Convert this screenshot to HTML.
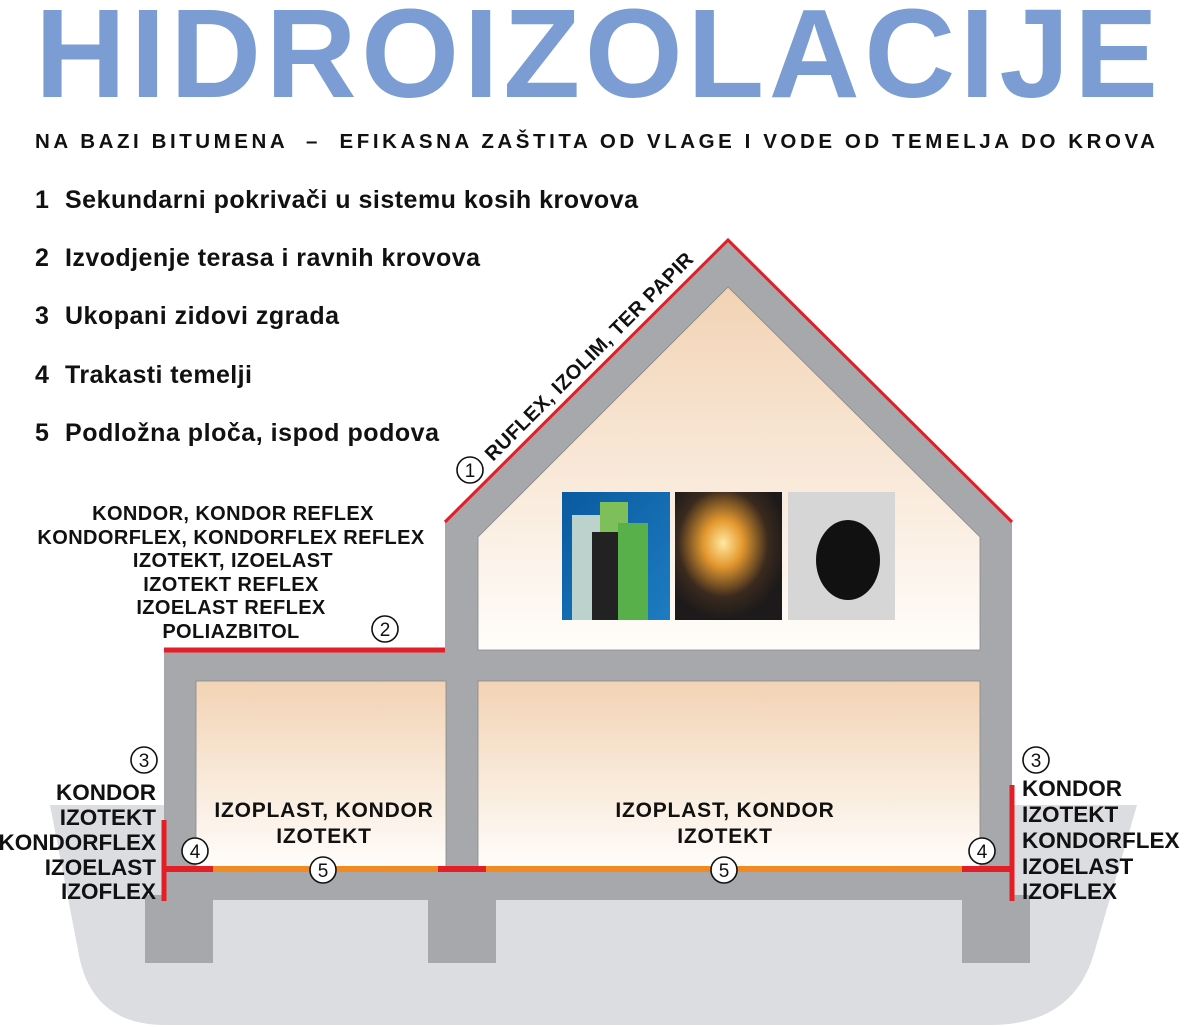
<!DOCTYPE html>
<html><head><meta charset="utf-8"><style>
html,body{margin:0;padding:0;background:#fff;}
svg{display:block;}
text{font-family:"Liberation Sans",Arial,sans-serif;font-weight:bold;}
</style></head><body>
<svg width="1185" height="1027" viewBox="0 0 1185 1027" xmlns="http://www.w3.org/2000/svg">
<defs>
<linearGradient id="room" x1="0" y1="0" x2="0" y2="1">
<stop offset="0" stop-color="#f2d3b4"/><stop offset="1" stop-color="#fffdfb"/>
</linearGradient>
<linearGradient id="p1" x1="0" y1="0" x2="1" y2="1"><stop offset="0" stop-color="#0a5aa0"/><stop offset="1" stop-color="#1e7cc0"/></linearGradient>
<radialGradient id="p2" cx="0.45" cy="0.4" r="0.6"><stop offset="0" stop-color="#ffe9a0"/><stop offset="0.3" stop-color="#e59a30"/><stop offset="0.7" stop-color="#3a2a1e"/><stop offset="1" stop-color="#1c1a1a"/></radialGradient>
</defs>
<text x="35" y="97" textLength="1123" lengthAdjust="spacing" font-size="126" fill="#7b9dd3">HIDROIZOLACIJE</text>
<text x="35" y="148" textLength="1120" lengthAdjust="spacing" font-size="20.5" fill="#111" xml:space="preserve">NA BAZI BITUMENA  –  EFIKASNA ZAŠTITA OD VLAGE I VODE OD TEMELJA DO KROVA</text>
<g font-size="25" fill="#111">
<text x="35" y="208">1</text><text x="65" y="208" textLength="573" lengthAdjust="spacing">Sekundarni pokrivači u sistemu kosih krovova</text>
<text x="35" y="266">2</text><text x="65" y="266" textLength="415" lengthAdjust="spacing">Izvodjenje terasa i ravnih krovova</text>
<text x="35" y="324">3</text><text x="65" y="324" textLength="274" lengthAdjust="spacing">Ukopani zidovi zgrada</text>
<text x="35" y="383">4</text><text x="65" y="383" textLength="187" lengthAdjust="spacing">Trakasti temelji</text>
<text x="35" y="441">5</text><text x="65" y="441" textLength="374" lengthAdjust="spacing">Podložna ploča, ispod podova</text>
</g>
<path d="M50 805 L1137 805 L1095 950 Q1075 1025 990 1025 L165 1025 Q90 1025 78 950 Z" fill="#dcdde0"/>
<path d="M445 522 L728 240 L1012 522 L1012 900 L164 900 L164 650 L445 650 Z" fill="#a7a8ab"/>
<rect x="145" y="895" width="68" height="68" fill="#a7a8ab"/>
<rect x="428" y="895" width="68" height="68" fill="#a7a8ab"/>
<rect x="962" y="895" width="68" height="68" fill="#a7a8ab"/>
<path d="M478 537 L728 287 L980 537 L980 650 L478 650 Z" fill="url(#room)" stroke="#888" stroke-width="0.8"/>
<rect x="196" y="681" width="250" height="188" fill="url(#room)" stroke="#888" stroke-width="0.8"/>
<rect x="478" y="681" width="502" height="188" fill="url(#room)" stroke="#888" stroke-width="0.8"/>
<rect x="562" y="492" width="108" height="128" fill="url(#p1)"/>
<rect x="572" y="515" width="30" height="105" fill="#bcd2cc"/>
<rect x="600" y="502" width="28" height="118" fill="#7fbf5a"/>
<rect x="592" y="532" width="28" height="88" fill="#222"/>
<rect x="618" y="523" width="30" height="97" fill="#58b04a"/>
<rect x="675" y="492" width="107" height="128" fill="url(#p2)"/>
<rect x="788" y="492" width="107" height="128" fill="#d6d6d6"/>
<ellipse cx="848" cy="560" rx="32" ry="40" fill="#111"/>
<path d="M445 522 L728 240 L1012 522" fill="none" stroke="#e31e26" stroke-width="3"/>
<line x1="164" y1="650" x2="445" y2="650" stroke="#e31e26" stroke-width="5"/>
<line x1="213" y1="869" x2="962" y2="869" stroke="#f28a22" stroke-width="6"/>
<line x1="164" y1="869" x2="213" y2="869" stroke="#e31e26" stroke-width="6"/>
<line x1="438" y1="869" x2="486" y2="869" stroke="#e31e26" stroke-width="6"/>
<line x1="962" y1="869" x2="1012" y2="869" stroke="#e31e26" stroke-width="6"/>
<line x1="164" y1="820" x2="164" y2="901" stroke="#e31e26" stroke-width="5"/>
<line x1="1012" y1="785" x2="1012" y2="901" stroke="#e31e26" stroke-width="5"/>
<g fill="#fff" stroke="#111" stroke-width="1.6">
<circle cx="470" cy="470" r="13"/><circle cx="385" cy="629" r="13"/>
<circle cx="144" cy="760" r="13"/><circle cx="1036" cy="760" r="13"/>
<circle cx="195" cy="851" r="13"/><circle cx="982" cy="851" r="13"/>
<circle cx="323" cy="870" r="13"/><circle cx="724" cy="870" r="13"/>
</g>
<g font-size="19" fill="#111" text-anchor="middle">
<text x="470" y="477" style="font-weight:normal">1</text><text x="385" y="636" style="font-weight:normal">2</text>
<text x="144" y="767" style="font-weight:normal">3</text><text x="1036" y="767" style="font-weight:normal">3</text>
<text x="195" y="858" style="font-weight:normal">4</text><text x="982" y="858" style="font-weight:normal">4</text>
<text x="323" y="877" style="font-weight:normal">5</text><text x="724" y="877" style="font-weight:normal">5</text>
</g>
<text transform="translate(493,462) rotate(-45)" font-size="20" fill="#111" textLength="285" lengthAdjust="spacing">RUFLEX, IZOLIM, TER PAPIR</text>
<g font-size="20" fill="#111" text-anchor="middle" letter-spacing="0.4">
<text x="233" y="520">KONDOR, KONDOR REFLEX</text>
<text x="231" y="544">KONDORFLEX, KONDORFLEX REFLEX</text>
<text x="233" y="567">IZOTEKT, IZOELAST</text>
<text x="231" y="591">IZOTEKT REFLEX</text>
<text x="231" y="614">IZOELAST REFLEX</text>
<text x="231" y="638">POLIAZBITOL</text>
</g>
<g font-size="21" fill="#111" text-anchor="middle" letter-spacing="0.8">
<text x="324" y="817">IZOPLAST, KONDOR</text>
<text x="324" y="843">IZOTEKT</text>
<text x="725" y="817">IZOPLAST, KONDOR</text>
<text x="725" y="843">IZOTEKT</text>
</g>
<g font-size="22.5" fill="#111" text-anchor="end">
<text x="156" y="800">KONDOR</text>
<text x="156" y="825">IZOTEKT</text>
<text x="156" y="850">KONDORFLEX</text>
<text x="156" y="875">IZOELAST</text>
<text x="156" y="899">IZOFLEX</text>
</g>
<g font-size="22.5" fill="#111">
<text x="1022" y="796">KONDOR</text>
<text x="1022" y="822">IZOTEKT</text>
<text x="1022" y="848">KONDORFLEX</text>
<text x="1022" y="874">IZOELAST</text>
<text x="1022" y="899">IZOFLEX</text>
</g>
</svg>
</body></html>
